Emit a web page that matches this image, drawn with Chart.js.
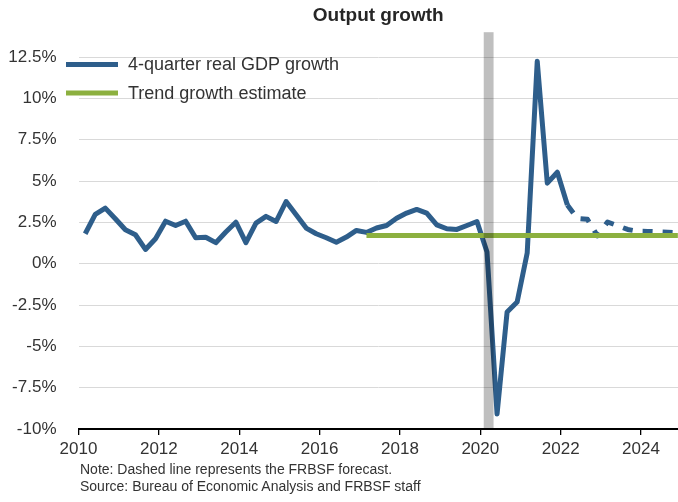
<!DOCTYPE html>
<html>
<head>
<meta charset="utf-8">
<script src="https://cdn.jsdelivr.net/npm/chart.js@4.4.1/dist/chart.umd.min.js"></script>
<style>
  html, body { margin: 0; padding: 0; background: #fff; }
  #wrap { position: relative; width: 678px; height: 502px; }
  #chart { position: absolute; left: 0; top: 0; }
  .note {
    position: absolute; left: 80px; top: 461px;
    font: 14px "Liberation Sans", Arial, sans-serif; line-height: 17px; color: #333;
  }
</style>
</head>
<body>
<div id="wrap">
  <canvas id="chart" width="678" height="502"></canvas>
  <div class="note">Note: Dashed line represents the FRBSF forecast.<br>Source: Bureau of Economic Analysis and FRBSF staff</div>
</div>
<script>
// 4-quarter real GDP growth, 2010Q1 .. 2022Q1 (actual)
const firstYear = 2010;
const gdpActual = [
  1.81, 2.98, 3.36, 2.72,   // 2010
  2.05, 1.75, 0.86, 1.51,   // 2011
  2.57, 2.31, 2.57, 1.57,   // 2012
  1.60, 1.27, 1.91, 2.51,   // 2013
  1.27, 2.45, 2.86, 2.55,   // 2014
  3.76, 2.96, 2.15, 1.81,   // 2015
  1.57, 1.30, 1.61, 2.01,   // 2016
  1.89, 2.16, 2.31, 2.75,   // 2017
  3.06, 3.28, 3.06, 2.35,   // 2018
  2.11, 2.07, 2.31, 2.55,   // 2019
  0.70, -9.10, -2.92, -2.32, // 2020
  0.64, 12.24, 4.87, 5.53,  // 2021
  3.55                      // 2022Q1
];

// FRBSF forecast, 2022Q1 .. 2024Q4
const forecastQuarters = ['2022Q1', '2022Q2', '2022Q3', '2022Q4', '2023Q1', '2023Q2',
                          '2023Q3', '2023Q4', '2024Q1', '2024Q2', '2024Q3', '2024Q4'];
const gdpForecast = [3.55, 2.73, 2.68, 1.68, 2.52, 2.30, 2.07, 1.96, 1.95, 1.93, 1.90, 1.87];

const trendQuarters = ['2017Q1', '2024Q4'];
const trendValues = [1.7, 1.7];

const recession = [2020.085, 2020.33];

const blue = '#2e5e8b';
const green = '#8cb03f';
const font = '"Liberation Sans", Arial, sans-serif';

// quarter -> decimal year (plotted at start of the quarter's last month)
function qx(label) {
  const y = parseInt(label.slice(0, 4));
  const q = parseInt(label.slice(5));
  return y + (q * 3 - 1) / 12;
}

const actualQuarters = gdpActual.map((v, i) => `${firstYear + Math.floor(i / 4)}Q${i % 4 + 1}`);

const recessionShade = {
  id: 'recessionShade',
  afterDatasetsDraw(chart) {
    const { ctx, chartArea, scales } = chart;
    const x0 = scales.x.getPixelForValue(recession[0]);
    const x1 = scales.x.getPixelForValue(recession[1]);
    ctx.save();
    ctx.fillStyle = 'rgba(0,0,0,0.25)';
    ctx.fillRect(x0, chartArea.top, x1 - x0, chartArea.bottom - chartArea.top);
    ctx.restore();
  }
};

const insetLegend = {
  id: 'insetLegend',
  afterDraw(chart) {
    const ctx = chart.ctx;
    const items = [chart.data.datasets[0], chart.data.datasets[2]];
    ctx.save();
    ctx.font = '18px ' + font;
    ctx.textBaseline = 'middle';
    items.forEach((ds, i) => {
      const y = 64.5 + i * 28.5;
      ctx.strokeStyle = ds.borderColor;
      ctx.lineWidth = 5;
      ctx.beginPath();
      ctx.moveTo(66, y);
      ctx.lineTo(118, y);
      ctx.stroke();
      ctx.fillStyle = '#333';
      ctx.fillText(ds.label, 128, y + 1);
    });
    ctx.restore();
  }
};

new Chart(document.getElementById('chart'), {
  type: 'line',
  data: {
    datasets: [
      {
        label: '4-quarter real GDP growth',
        data: actualQuarters.map((q, i) => ({ x: qx(q), y: gdpActual[i] })),
        borderColor: blue,
        borderWidth: 5,
        borderJoinStyle: 'round',
        pointRadius: 0,
        tension: 0,
        order: 1
      },
      {
        label: 'Forecast',
        data: forecastQuarters.map((q, i) => ({ x: qx(q), y: gdpForecast[i] })),
        borderColor: blue,
        borderWidth: 5,
        borderDash: [10, 10],
        borderJoinStyle: 'round',
        pointRadius: 0,
        tension: 0,
        order: 1
      },
      {
        label: 'Trend growth estimate',
        data: trendQuarters.map((q, i) => ({ x: qx(q), y: trendValues[i] })),
        borderColor: green,
        borderWidth: 5,
        pointRadius: 0,
        order: 0
      }
    ]
  },
  options: {
    responsive: false,
    animation: false,
    layout: { padding: { top: 0, right: 0, bottom: 43, left: 0 } },
    plugins: {
      legend: { display: false },
      tooltip: { enabled: false },
      title: {
        display: true,
        text: 'Output growth',
        fullSize: false,
        color: '#262626',
        font: { size: 19, weight: 'bold', family: font },
        padding: { top: 4, bottom: 5 }
      }
    },
    scales: {
      x: {
        type: 'linear',
        min: 2010,
        max: 2024.92,
        ticks: {
          stepSize: 2,
          includeBounds: false,
          autoSkip: false,
          maxRotation: 0,
          padding: 4,
          color: '#333',
          font: { size: 17, family: font },
          callback: v => String(v)
        },
        grid: { drawOnChartArea: false, drawTicks: true, tickLength: 6, color: '#000', lineWidth: 1.3 },
        border: { display: true, color: '#000', width: 2 },
        afterFit: s => { s.height = 30; }
      },
      y: {
        min: -10,
        max: 14,
        ticks: {
          stepSize: 2.5,
          includeBounds: false,
          padding: 22,
          color: '#333',
          font: { size: 17, family: font },
          callback: v => v + '%'
        },
        grid: { color: '#d9d9d9', lineWidth: 1, drawTicks: false },
        border: { display: false },
        afterFit: s => { s.width = 78.5; }
      }
    }
  },
  plugins: [recessionShade, insetLegend]
});
</script>
</body>
</html>
